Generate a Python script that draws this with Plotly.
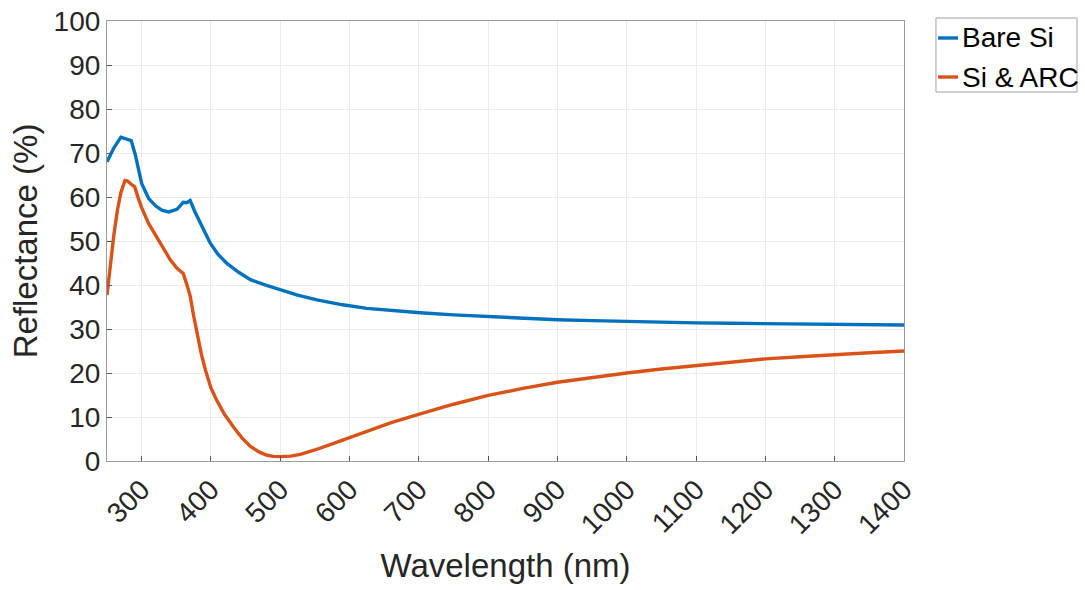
import plotly.graph_objects as go

wl_bare = [250, 260, 270, 280, 285, 291, 300, 310, 320, 329, 339, 351, 356, 360, 365, 370, 377, 385, 392, 399, 410, 423, 440, 457, 480, 500, 525, 553, 590, 625, 660, 702, 750, 800, 850, 900, 950, 1000, 1050, 1100, 1150, 1200, 1250, 1300, 1350, 1400]
r_bare = [68.0, 71.2, 73.6, 73.0, 72.8, 69.5, 63.1, 59.7, 58.0, 57.0, 56.6, 57.2, 58.2, 58.8, 58.7, 59.2, 56.6, 54.0, 51.4, 49.5, 47.0, 44.9, 42.9, 41.2, 39.9, 38.9, 37.7, 36.6, 35.5, 34.7, 34.2, 33.7, 33.2, 32.8, 32.4, 32.1, 31.9, 31.7, 31.55, 31.4, 31.3, 31.2, 31.1, 31.0, 30.95, 30.9]

wl_arc = [250, 255, 260, 265, 270, 276, 280, 285, 290, 295, 300, 310, 327, 341, 351, 360, 365, 370, 375, 380, 386, 392, 400, 409, 420, 433, 445, 457, 470, 481, 490, 500, 515, 529, 550, 577, 600, 625, 660, 702, 750, 800, 850, 900, 950, 1000, 1050, 1100, 1150, 1200, 1250, 1300, 1350, 1400]
r_arc = [37.7, 45.5, 51.5, 57.0, 61.0, 63.8, 63.6, 62.9, 62.3, 59.8, 57.6, 54.0, 49.5, 45.8, 43.8, 42.6, 40.2, 37.5, 33.0, 28.8, 24.4, 20.7, 16.6, 13.6, 10.5, 7.6, 5.2, 3.3, 2.0, 1.3, 1.05, 1.0, 1.1, 1.5, 2.5, 4.0, 5.3, 6.7, 8.7, 10.7, 12.9, 14.9, 16.5, 17.9, 19.0, 20.0, 20.9, 21.7, 22.5, 23.2, 23.7, 24.2, 24.6, 25.0]

series_names = ["Bare Si", "Si &amp; ARC"]
series_colors = ["#0072BD", "#D95319"]

x_ticks = list(range(300, 1401, 100))
y_ticks = list(range(0, 101, 10))

font_family = "Liberation Sans, Arial, sans-serif"

fig = go.Figure()
fig.add_trace(go.Scatter(x=wl_bare, y=r_bare, mode="lines", name=series_names[0],
                         line=dict(color=series_colors[0], width=3.4)))
fig.add_trace(go.Scatter(x=wl_arc, y=r_arc, mode="lines", name=series_names[1],
                         line=dict(color=series_colors[1], width=3.4)))

axis_common = dict(showgrid=True, gridcolor="#EBEBEB", gridwidth=1,
                   showline=True, linecolor="#9A9A9A", linewidth=1.2, mirror=True,
                   ticks="inside", ticklen=5, tickcolor="#555555", zeroline=False,
                   automargin=False,
                   tickfont=dict(family=font_family, size=28, color="#262626"))

fig.update_xaxes(range=[250, 1400], tickvals=x_ticks, tickangle=-45,
                 title=dict(text="Wavelength (nm)", font=dict(family=font_family, size=33, color="#262626")),
                 **axis_common)
fig.update_yaxes(range=[0, 100], tickvals=y_ticks,
                 title=dict(text="Reflectance (%)", font=dict(family=font_family, size=33, color="#262626"), standoff=6),
                 **axis_common)

# custom compact legend (box, short line samples, labels) in paper coordinates
leg_x0, leg_x1, leg_y0, leg_y1 = 1.0401, 1.2171, 0.8386, 1.0068
sample_x0, sample_x1, text_x = 1.0427, 1.0678, 1.0703
row_y = [0.9614, 0.8727]
shapes = [dict(type="rect", xref="paper", yref="paper", x0=leg_x0, x1=leg_x1, y0=leg_y0, y1=leg_y1,
               line=dict(color="#A0A0A0", width=1), fillcolor="white", layer="above")]
annotations = []
for name, color, yy in zip(series_names, series_colors, row_y):
    shapes.append(dict(type="line", xref="paper", yref="paper", x0=sample_x0, x1=sample_x1, y0=yy, y1=yy,
                       line=dict(color=color, width=3.4), layer="above"))
    annotations.append(dict(xref="paper", yref="paper", x=text_x, y=yy, text=name, showarrow=False,
                            xanchor="left", yanchor="middle",
                            font=dict(family=font_family, size=28, color="black")))

fig.update_layout(
    width=1085, height=590,
    margin=dict(l=107, r=181, t=21, b=129, autoexpand=False),
    plot_bgcolor="white", paper_bgcolor="white",
    font=dict(family=font_family, color="#262626"),
    showlegend=False,
    shapes=shapes,
    annotations=annotations,
)

fig.write_html("out.html")
